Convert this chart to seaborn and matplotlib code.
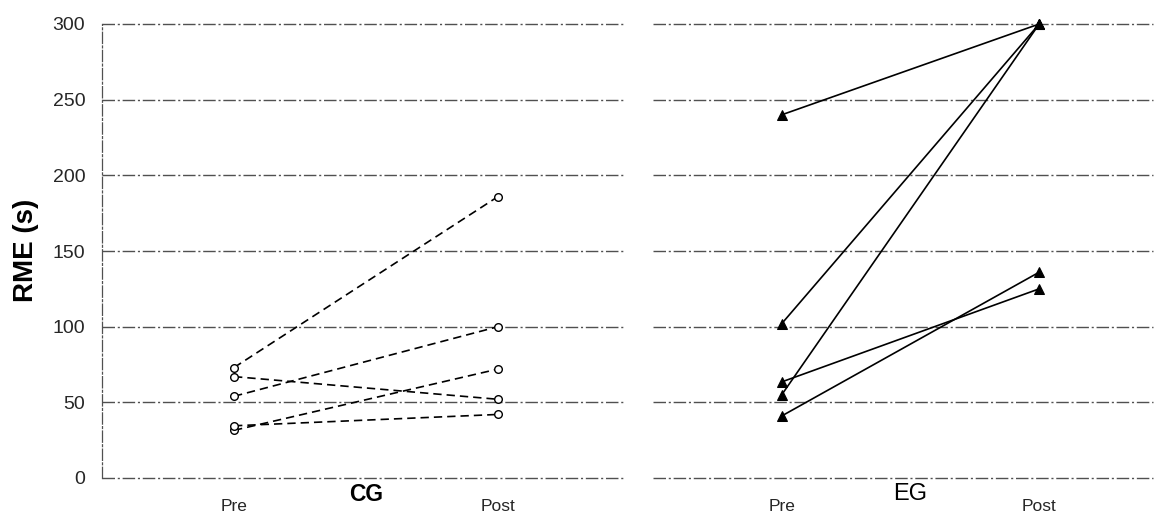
import matplotlib
matplotlib.use("Agg")
import matplotlib.pyplot as plt
import matplotlib.transforms as mtransforms
import numpy as np
import pandas as pd
import seaborn as sns

# Repeated-measures RME (s) for each participant, before and after
phases = ["Pre", "Post"]
groups = ["CG", "EG"]
cg_pre = [73, 67, 54, 31.5, 34.5]
cg_post = [186, 52, 100, 72, 42]
eg_pre = [240, 102, 55, 63.5, 41]
eg_post = [300, 300, 300, 125, 136]
y_ticks = [0, 50, 100, 150, 200, 250, 300]


def long_table(pre, post):
    rows = []
    for i, (a, b) in enumerate(zip(pre, post)):
        rows.append({"subject": i, "t": 0, "RME": a})
        rows.append({"subject": i, "t": 1, "RME": b})
    return pd.DataFrame(rows)


cg = long_table(cg_pre, cg_post)
eg = long_table(eg_pre, eg_post)

sns.set_theme(style="white")
plt.rcParams["font.family"] = ["Liberation Sans", "DejaVu Sans"]

W, H = 1157, 513
fig = plt.figure(figsize=(W / 100, H / 100), dpi=100)
fig.patch.set_facecolor("white")

bottom = 1 - 478 / H
height = 454 / H
ax1 = fig.add_axes([102 / W, bottom, 521 / W, height])
ax2 = fig.add_axes([653 / W, bottom, 500 / W, height], sharey=ax1)

grid_style = dict(color="#505050", linewidth=1.0, linestyle=(0, (9, 2, 1.5, 2)))

sns.lineplot(data=cg, x="t", y="RME", units="subject", estimator=None,
             ax=ax1, color="black", linewidth=1.2, linestyle=(0, (5, 3)),
             marker="o", markersize=5.5, markerfacecolor="white",
             markeredgecolor="black", markeredgewidth=1.0, clip_on=False,
             zorder=3)
sns.lineplot(data=eg, x="t", y="RME", units="subject", estimator=None,
             ax=ax2, color="black", linewidth=1.2, linestyle="-",
             marker="^", markersize=7, markerfacecolor="black",
             markeredgecolor="black", clip_on=False, zorder=3)

for ax, lim_r, name, weight, fsize in ((ax1, 1.473, groups[0], "bold", 16.5),
                                       (ax2, 1.442, groups[1], "normal", 17)):
    ax.set_xlim(-0.5, lim_r)
    ax.set_ylim(0, 300)
    ax.set_yticks(y_ticks)
    ax.set_xticks([0, 1])
    ax.set_xticklabels(phases, fontsize=12.5)
    ax.tick_params(axis="x", length=0, pad=15)
    ax.tick_params(axis="y", length=0, pad=12, labelsize=14)
    ax.set_xlabel("")
    ax.set_ylabel("")
    ax.yaxis.grid(True, **grid_style)
    ax.xaxis.grid(False)
    ax.set_axisbelow(True)
    for gl in ax.get_ygridlines():
        gl.set_clip_on(False)
    for s in ("top", "right", "bottom", "left"):
        ax.spines[s].set_visible(False)
    trans = mtransforms.blended_transform_factory(ax.transData, ax.transAxes)
    ax.text(0.5, -0.036, name, transform=trans, ha="center", va="center",
            fontsize=fsize, fontweight=weight, color="black")

ax1.spines["left"].set_visible(True)
ax1.spines["left"].set_color("#505050")
ax1.spines["left"].set_linewidth(0.9)
ax1.spines["left"].set_linestyle((0, (9, 2, 1.5, 2)))
ax2.tick_params(axis="y", labelleft=False)

fig.text(26 / W, 1 - 250 / H, "RME (s)", rotation=90, ha="center",
         va="center", fontsize=20, fontweight="bold", color="black")

fig.savefig("out.png", dpi=100, facecolor="white")
